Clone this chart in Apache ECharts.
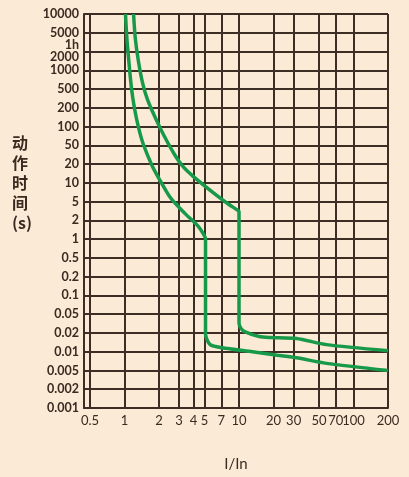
<!DOCTYPE html>
<html>
<head>
<meta charset="utf-8">
<script src="https://cdn.jsdelivr.net/npm/echarts@6/dist/echarts.min.js"></script>
<style>
html,body{margin:0;padding:0;background:#fbead6;}
#c{width:409px;height:477px;}
</style>
</head>
<body>
<div id="c"></div>
<script>
// X ticks (I/In), log scale
const xTicks = [0.5, 1, 2, 3, 4, 5, 7, 10, 20, 30, 50, 70, 100, 200];
// Y gridlines: evenly spaced lines carrying these time values (seconds)
const yTickValues = [0.001, 0.002, 0.005, 0.01, 0.02, 0.05, 0.1, 0.2, 0.5, 1, 2, 5, 10, 20, 50, 100, 200, 500, 1000, 2000, 5000, 10000];
const yTickLabels = ['0.001', '0.002', '0.005', '0.01', '0.02', '0.05', '0.1', '0.2', '0.5', '1', '2', '5', '10', '20', '50', '100', '200', '500', '1000', '2000', '5000', '10000'];
// extra label without gridline
const yExtraValue = 3600;
const yExtraLabel = '1h';

// Curve 1 (faster trip)
const curve1X = [1.02, 1.05, 1.095, 1.15, 1.22, 1.32, 1.46, 1.75, 2.03, 2.53, 3.38, 4.39, 4.9, 5.1, 5.1, 5.6, 7.1, 13.1, 21.6, 31.8, 58, 200];
const curve1Y = [10000, 3700, 1300, 520, 200, 100, 52, 18.5, 11.2, 5.7, 2.78, 1.62, 1.2, 1.0, 0.019, 0.013, 0.0116, 0.010, 0.0088, 0.0080, 0.0065, 0.005];
// Curve 2 (slower trip)
const curve2X = [1.2, 1.24, 1.32, 1.44, 1.58, 1.85, 2.21, 2.76, 3.22, 4.0, 6.26, 8.0, 9.7, 10, 10, 10.4, 11.2, 15, 18.7, 31.8, 58, 200];
const curve2Y = [10000, 4000, 1440, 620, 310, 141, 72, 30.8, 18.5, 12.6, 6.46, 4.5, 3.3, 3.1, 0.0327, 0.025, 0.0213, 0.0175, 0.0169, 0.0163, 0.013, 0.0104];

// map seconds -> gridline index (log interpolation between listed tick values)
function toIdx(s) {
  const n = yTickValues.length;
  if (s <= yTickValues[0]) return 0;
  for (let i = 0; i < n - 1; i++) {
    const a = yTickValues[i], b = yTickValues[i + 1];
    if (s <= b) {
      return i + (Math.log(s) - Math.log(a)) / (Math.log(b) - Math.log(a));
    }
  }
  return n - 1;
}
function pts(xs, ys) { return xs.map((x, i) => [x, toIdx(ys[i])]); }

const gridIdx = yTickValues.map((v, i) => i);
const extraIdx = toIdx(yExtraValue);
const labelIdx = gridIdx.concat([extraIdx]);

const ink = '#3a2a20';
const gridColor = '#3d2e25';
const green = '#17994a';
const labelFont = {color: ink, fontSize: 12.5, fontWeight: 'bold', fontFamily: 'Lato'};

const chart = echarts.init(document.getElementById('c'), null, {renderer: 'canvas'});
chart.setOption({
  backgroundColor: '#fbead6',
  animation: false,
  grid: {left: 84, right: 21, top: 14, bottom: 64, containLabel: false},
  xAxis: {
    type: 'log',
    logBase: 10,
    min: 0.443,
    max: 200,
    name: 'I/In',
    nameLocation: 'middle',
    nameGap: 49,
    nameTextStyle: {color: ink, fontSize: 15, fontFamily: 'Lato'},
    axisLine: {show: true, lineStyle: {color: gridColor, width: 2}},
    axisTick: {show: false, customValues: xTicks},
    axisLabel: {
      customValues: xTicks,
      color: ink, fontSize: 13, fontFamily: 'Lato', margin: 6,
      formatter: v => String(+v.toPrecision(3))
    },
    splitLine: {show: true, lineStyle: {color: gridColor, width: 2}},
    minorSplitLine: {show: false}
  },
  yAxis: {
    type: 'value',
    min: 0,
    max: yTickValues.length - 1,
    axisLine: {show: true, lineStyle: {color: gridColor, width: 2}},
    axisTick: {show: false, customValues: gridIdx},
    axisLabel: Object.assign({
      customValues: labelIdx,
      margin: 5,
      formatter: v => {
        const r = Math.round(v);
        if (Math.abs(v - r) > 1e-6) return '{d|' + yExtraLabel + '}';
        const t = yTickLabels[r];
        return t === '2000' ? '{d|' + t + '}' : t;
      },
      rich: {
        d: Object.assign({padding: [10, 0, 0, 0]}, labelFont)
      }
    }, labelFont),
    splitLine: {show: true, lineStyle: {color: gridColor, width: 2}}
  },
  graphic: [{
    type: 'text',
    left: 12,
    top: 133,
    style: {
      text: '动\n作\n时\n间\n(s)',
      fill: ink,
      font: 'bold 16px "Noto Sans CJK SC"',
      lineHeight: 20,
      align: 'center'
    }
  }],
  series: [
    {type: 'line', data: pts(curve1X, curve1Y), showSymbol: false, smooth: 0.25, lineStyle: {color: green, width: 3.5}, z: 5},
    {type: 'line', data: pts(curve2X, curve2Y), showSymbol: false, smooth: 0.25, lineStyle: {color: green, width: 3.5}, z: 5}
  ]
});
</script>
</body>
</html>
